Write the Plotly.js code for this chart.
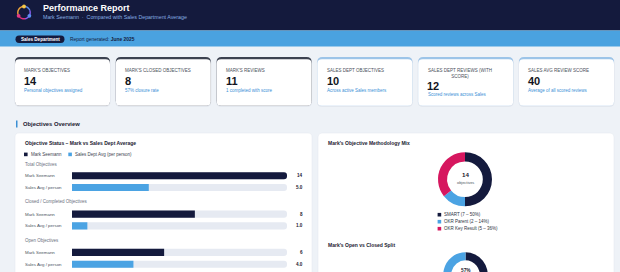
<!DOCTYPE html>
<html><head><meta charset="utf-8">
<script src="https://cdn.plot.ly/plotly-3.0.1.min.js"></script>
<style>
html,body{margin:0;padding:0;width:620px;height:272px;overflow:hidden;background:#eef2f7}
#wrap{width:620px;height:272px;overflow:hidden}
#chart{width:620px;height:330px}
</style></head>
<body><div id="wrap"><div id="chart"></div></div>
<script>
// ---------------- DATA ----------------
const reportTitle = 'Performance Report';
const personName = 'Mark Seemann';
const subtitleTail = 'Compared with Sales Department Average';
const departmentName = 'Sales Department';
const reportMonth = 'June 2025';

const kpiLabels = ["MARK'S OBJECTIVES", "MARK'S CLOSED OBJECTIVES", "MARK'S REVIEWS",
                   "SALES DEPT OBJECTIVES", "SALES DEPT REVIEWS (WITH SCORE)", "SALES AVG REVIEW SCORE"];
const kpiValues = [14, 8, 11, 10, 12, 40];
const kpiNotes = ['Personal objectives assigned', '57% closure rate', '1 completed with score',
                  'Across active Sales members', 'Scored reviews across Sales', 'Average of all scored reviews'];
const kpiOwner = ['mark', 'mark', 'mark', 'sales', 'sales', 'sales'];

const sectionTitle = 'Objectives Overview';
const barChartTitle = 'Objective Status – Mark vs Sales Dept Average';
const barLegend = ['Mark Seemann', 'Sales Dept Avg (per person)'];
const groupTitles = ['Total Objectives', 'Closed / Completed Objectives', 'Open Objectives'];
const rowLabels = ['Mark Seemann', 'Sales Avg / person'];
const markValues = [14, 8, 6];
const salesAvgValues = [5.0, 1.0, 4.0];

const methodTitle = "Mark's Objective Methodology Mix";
const methodLabels = ['SMART', 'OKR Parent', 'OKR Key Result'];
const methodValues = [7, 2, 5];
const methodCenterLabel = 'objectives';

const splitTitle = "Mark's Open vs Closed Split";
const splitLabels = ['Closed', 'Open'];
const splitValues = [8, 6];

// ---------------- STYLE / LAYOUT HELPERS ----------------
const W = 620, H = 330;
const X = p => p / W, Y = p => 1 - p / H;
const FONT = 'Liberation Sans, Arial, Helvetica, sans-serif';
const NAVY = '#141a3d', BLUE = '#4ba3e3', PINK = '#d6175f', TRACK = '#e6eaf2';

const shapes = [], annotations = [], traces = [];

function rrectPath(x0, y0, x1, y1, r) {
  const P = (x, y) => X(x).toFixed(5) + ',' + Y(y).toFixed(5);
  return `M${P(x0 + r, y0)} L${P(x1 - r, y0)} Q${P(x1, y0)} ${P(x1, y0 + r)} L${P(x1, y1 - r)} Q${P(x1, y1)} ${P(x1 - r, y1)} L${P(x0 + r, y1)} Q${P(x0, y1)} ${P(x0, y1 - r)} L${P(x0, y0 + r)} Q${P(x0, y0)} ${P(x0 + r, y0)} Z`;
}
function rrect(x0, y0, x1, y1, r, fill, line) {
  shapes.push({type: 'path', xref: 'paper', yref: 'paper', layer: 'below',
    path: rrectPath(x0, y0, x1, y1, r), fillcolor: fill,
    line: line || {width: 0}});
}
function rect(x0, y0, x1, y1, fill) {
  shapes.push({type: 'rect', xref: 'paper', yref: 'paper', layer: 'below',
    x0: X(x0), x1: X(x1), y0: Y(y1), y1: Y(y0), fillcolor: fill, line: {width: 0}});
}
function circ(cx, cy, r, fill) {
  shapes.push({type: 'circle', xref: 'paper', yref: 'paper', layer: 'above',
    x0: X(cx - r), x1: X(cx + r), y0: Y(cy + r), y1: Y(cy - r), fillcolor: fill, line: {width: 0}});
}
function arc(cx, cy, r, a0, a1, color, w) {
  let pts = [];
  for (let k = 0; k <= 12; k++) {
    const a = (a0 + (a1 - a0) * k / 12) * Math.PI / 180;
    pts.push(X(cx + r * Math.cos(a)).toFixed(5) + ',' + Y(cy - r * Math.sin(a)).toFixed(5));
  }
  shapes.push({type: 'path', xref: 'paper', yref: 'paper', layer: 'above',
    path: 'M' + pts.join(' L'), fillcolor: 'rgba(0,0,0,0)', line: {color: color, width: w}});
}
function txt(x, y, text, size, color, opts) {
  annotations.push(Object.assign({xref: 'paper', yref: 'paper', x: X(x), y: Y(y), text: text,
    showarrow: false, xanchor: 'left', yanchor: 'middle', borderpad: 0,
    font: {family: FONT, size: size, color: color}}, opts || {}));
}
function wrapWords(s, maxChars) {
  const words = s.split(' '); const lines = []; let cur = '';
  words.forEach(w => {
    if (cur && (cur + ' ' + w).length > maxChars) { lines.push(cur); cur = w; }
    else cur = cur ? cur + ' ' + w : w;
  });
  lines.push(cur); return lines;
}

// ---------------- HEADER ----------------
rect(0, 0, W, 30.5, NAVY);
rect(0, 30.5, W, 46.5, '#4aa2e0');
// logo
arc(24, 12.6, 6.2, 20, 100, '#5b8def', 1.4);
arc(24, 12.6, 6.2, 100, 200, '#f0a53a', 1.4);
arc(24, 12.6, 6.2, 200, 280, '#e0307a', 1.4);
arc(24, 12.6, 6.2, 280, 380, '#8a5cf0', 1.4);
circ(24, 6.5, 1.9, '#f7c948');
circ(18.6, 15.8, 1.9, '#e23a84');
circ(29.4, 15.8, 1.9, '#5a8ff2');
txt(42, 7.9, '<b>' + reportTitle + '</b>', 9, '#ffffff');
txt(42.3, 17.4, personName + '\u00a0\u00a0·\u00a0\u00a0' + subtitleTail, 5.3, '#86aee2');
rrect(15.5, 35.6, 64.5, 42.9, 3.6, NAVY);
txt(40, 39.3, '<b>' + departmentName + '</b>', 4.6, '#ffffff', {xanchor: 'center'});
txt(69.3, 39.3, 'Report generated: <b>' + reportMonth + '</b>', 4.9, NAVY);

// ---------------- KPI CARDS ----------------
kpiLabels.forEach((lab, i) => {
  const x0 = 15 + i * 100.8, x1 = x0 + 95;
  const border = kpiOwner[i] === 'mark' ? '#3c4250' : '#9cc4e8';
  rrect(x0 - 0.5, 57.5, x1 + 0.5, 106.8, 5, 'rgba(30,45,80,0.07)');
  rrect(x0, 57, x1, 105.8, 5, border);
  rrect(x0, 59.3, x1, 105.8, 4.5, '#ffffff');
  const lines = wrapWords(lab, 25);
  const extra = (lines.length - 1) * 4.6;
  txt(x0 + 8.3, 67, lines.join('<br>'), 4.5, '#4a4f5a', {yanchor: 'top'});
  txt(x0 + 8.1, 81.3 + extra, '<b>' + kpiValues[i] + '</b>', 11, '#121521');
  txt(x0 + 8.3, 90.4 + extra, kpiNotes[i], 4.5, '#3a8fd6');
});

// ---------------- SECTION HEADER ----------------
rect(16, 120.6, 17.5, 127.4, '#3b8fd4');
txt(21.5, 124, '<b>' + sectionTitle + '</b>', 5.8, '#1b2030');

// ---------------- PANELS ----------------
rrect(15, 133, 312, H + 6, 4, '#ffffff', {color: '#e2e7ef', width: 0.5});
rrect(318, 133, 614, H + 6, 4, '#ffffff', {color: '#e2e7ef', width: 0.5});

// ---------------- BAR CHART (left panel) ----------------
txt(24, 142.8, '<b>' + barChartTitle + '</b>', 5, '#1b2030');
rect(24, 152.6, 27.6, 156.2, NAVY);
txt(30, 154.4, barLegend[0], 4.5, '#3d4250');
rect(68.3, 152.6, 71.9, 156.2, BLUE);
txt(74, 154.4, barLegend[1], 4.5, '#3d4250');

const layout = {
  width: W, height: H, margin: {l: 0, r: 0, t: 0, b: 0, pad: 0},
  paper_bgcolor: '#eef2f7', plot_bgcolor: 'rgba(0,0,0,0)',
  showlegend: false, barmode: 'overlay', hovermode: false,
  font: {family: FONT}
};
const maxVal = Math.max(...markValues, ...salesAvgValues);
const groupCenters = [181.6, 220.0, 258.3];
const rowPitch = 11.8;
const groupTitleY = [164.2, 201.8, 240.0];
groupTitles.forEach((g, i) => {
  const sfx = i === 0 ? '' : String(i + 1);
  const c = groupCenters[i];
  layout['xaxis' + sfx] = {domain: [X(72), X(287)], range: [0, maxVal], visible: false, fixedrange: true,
    anchor: 'y' + sfx};
  layout['yaxis' + sfx] = {domain: [Y(c + rowPitch), Y(c - rowPitch)], type: 'category',
    categoryarray: rowLabels, categoryorder: 'array', range: [1.5, -0.5], visible: false, fixedrange: true,
    anchor: 'x' + sfx};
  txt(24, groupTitleY[i], g, 4.5, '#6b7280');
  traces.push({type: 'bar', orientation: 'h', y: rowLabels, x: rowLabels.map(() => maxVal),
    xaxis: 'x' + sfx, yaxis: 'y' + sfx, width: 0.6,
    marker: {color: TRACK, cornerradius: 3, line: {width: 0}}, hoverinfo: 'skip'});
  const vals = [markValues[i], salesAvgValues[i]];
  traces.push({type: 'bar', orientation: 'h', y: rowLabels, x: vals,
    xaxis: 'x' + sfx, yaxis: 'y' + sfx, width: 0.6,
    marker: {color: [NAVY, BLUE], cornerradius: 3, line: {width: 0}}, hoverinfo: 'skip'});
  rowLabels.forEach((r, j) => {
    annotations.push({xref: 'paper', yref: 'y' + sfx, x: X(24), y: r, text: r, showarrow: false,
      xanchor: 'left', yanchor: 'middle', borderpad: 0, font: {family: FONT, size: 4.4, color: '#4b5563'}});
    annotations.push({xref: 'paper', yref: 'y' + sfx, x: X(303.5), y: r,
      text: '<b>' + (j === 0 ? String(vals[j]) : vals[j].toFixed(1)) + '</b>', showarrow: false,
      xanchor: 'right', yanchor: 'middle', borderpad: 0, font: {family: FONT, size: 4.6, color: '#1b2030'}});
  });
});

// ---------------- DONUTS (right panel) ----------------
const sum = a => a.reduce((s, v) => s + v, 0);
txt(327, 142.8, '<b>' + methodTitle + '</b>', 5, '#1b2030');
const d1 = {cx: 465, cy: 179.3, r: 27};
traces.push({type: 'pie', labels: methodLabels, values: methodValues, hole: 0.66, sort: false,
  direction: 'clockwise', rotation: 0, textinfo: 'none', hoverinfo: 'skip',
  marker: {colors: [NAVY, BLUE, PINK], line: {width: 0}},
  domain: {x: [X(d1.cx - d1.r), X(d1.cx + d1.r)], y: [Y(d1.cy + d1.r), Y(d1.cy - d1.r)]}});
const mTot = sum(methodValues);
txt(d1.cx, 174.5, '<b>' + mTot + '</b>', 6.2, '#1b2030', {xanchor: 'center'});
txt(d1.cx, 182.4, methodCenterLabel, 3.9, '#4b5563', {xanchor: 'center'});
const pieColors = [NAVY, BLUE, PINK];
methodLabels.forEach((l, k) => {
  const yy = 214.7 + k * 7;
  rect(437.6, yy - 1.8, 441.2, yy + 1.8, pieColors[k]);
  txt(443.4, yy, `${l} (${methodValues[k]} – ${Math.round(100 * methodValues[k] / mTot)}%)`, 4.5, '#2d3340');
});

txt(327, 245.2, '<b>' + splitTitle + '</b>', 5, '#1b2030');
const d2 = {cx: 465.5, cy: 274.5, r: 22.2};
traces.push({type: 'pie', labels: splitLabels, values: splitValues, hole: 0.64, sort: false,
  direction: 'clockwise', rotation: 0, textinfo: 'none', hoverinfo: 'skip',
  marker: {colors: [NAVY, BLUE], line: {width: 0}},
  domain: {x: [X(d2.cx - d2.r), X(d2.cx + d2.r)], y: [Y(d2.cy + d2.r), Y(d2.cy - d2.r)]}});
txt(d2.cx, 270.2, '<b>' + Math.round(100 * splitValues[0] / sum(splitValues)) + '%</b>', 4.8, '#1b2030', {xanchor: 'center'});

layout.shapes = shapes;
layout.annotations = annotations;
Plotly.newPlot('chart', traces, layout, {staticPlot: true, displayModeBar: false});
</script>
</body></html>
